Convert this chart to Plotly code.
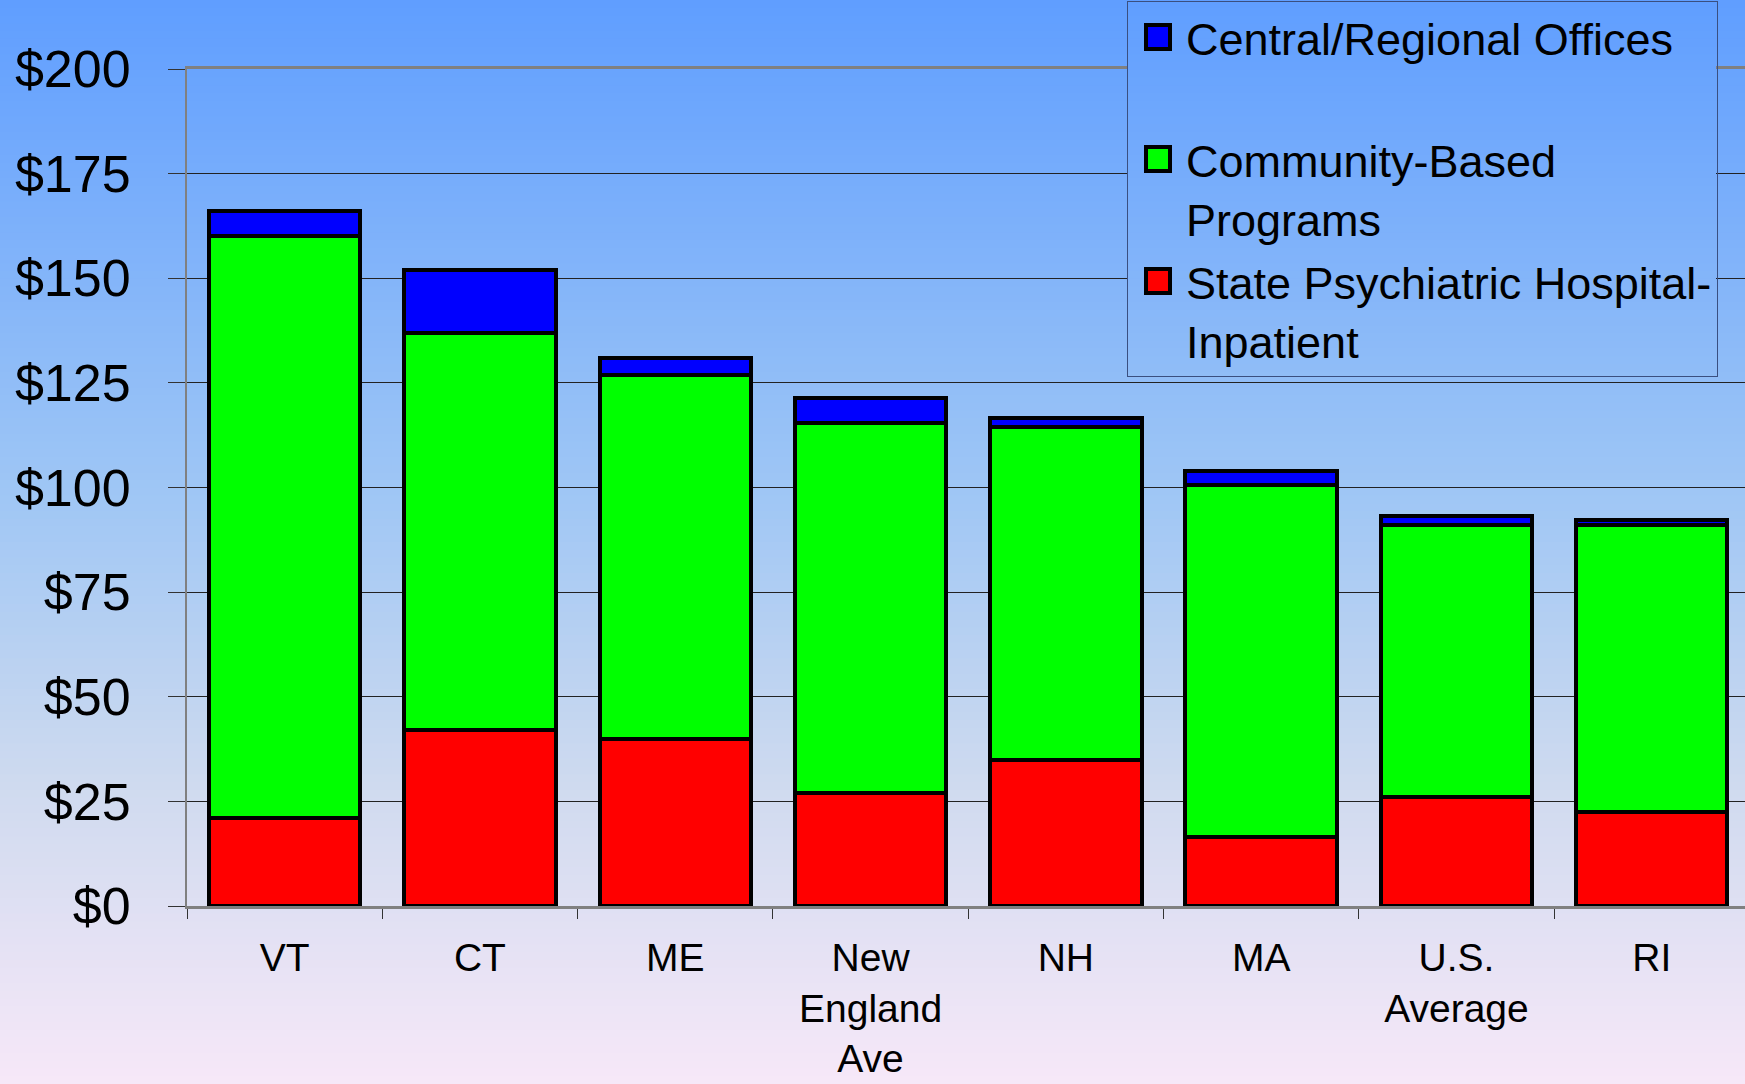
import plotly.graph_objects as go

categories = ["VT", "CT", "ME", "New<br>England<br>Ave", "NH", "MA", "U.S.<br>Average", "RI"]
hospital = [21.0, 42.0, 40.0, 27.0, 35.0, 16.5, 26.0, 22.5]
community = [139.0, 95.0, 87.0, 88.5, 79.5, 84.0, 65.0, 68.5]
central = [6.0, 15.0, 4.0, 6.0, 2.2, 3.5, 2.2, 1.3]
y_ticks = [0, 25, 50, 75, 100, 125, 150, 175, 200]
y_tick_labels = ["$0", "$25", "$50", "$75", "$100", "$125", "$150", "$175", "$200"]

W, H = 1745, 1084
ML, MR, MT, MB = 187, 0, 69, 178
FONT = "Liberation Sans, Arial, sans-serif"

fig = go.Figure()
series = [
    ("State Psychiatric Hospital-<br>Inpatient", hospital, "#ff0000", "g3"),
    ("Community-Based<br>Programs", community, "#00ff00", "g2"),
    ("Central/Regional Offices<br> ", central, "#0000ff", "g1"),
]
for name, vals, col, grp in series:
    fig.add_trace(go.Bar(
        x=categories, y=vals, name=name, showlegend=False, legendgroup=grp,
        marker=dict(color=col, line=dict(color="#000000", width=4)),
    ))
# legend entries (symbols drawn as larger squares below)
for name, vals, col, grp in reversed(series):
    fig.add_trace(go.Scatter(
        x=[None], y=[None], mode="markers", name=name, legendgroup=grp,
        marker=dict(symbol="square", size=16, color="rgba(0,0,0,0)", line=dict(width=0)),
    ))

# background gradient (top blue -> bottom lavender)
stops = [(0.0, (96, 158, 255)), (0.45, (158, 198, 245)), (0.72, (206, 218, 239)), (1.0, (247, 232, 248))]
def col_at(t):
    for i in range(len(stops) - 1):
        t0, c0 = stops[i]
        t1, c1 = stops[i + 1]
        if t <= t1:
            f = (t - t0) / (t1 - t0)
            return "rgb(%d,%d,%d)" % tuple(round(c0[k] + (c1[k] - c0[k]) * f) for k in range(3))
    return "rgb(%d,%d,%d)" % stops[-1][1]

ph = H - MT - MB
pw = W - ML - MR
def px_x(x):
    return (x - ML) / pw
def px_y(y):
    return 1 + (MT - y) / ph

N = 140
LEG_L, LEG_R, LEG_B = 1128, 1716, 375  # legend box area (px) covered by opaque background
shapes = []
for i in range(N):
    top_px = H * i / N
    bot_px = H * (i + 1) / N + 1
    c = col_at((i + 0.5) / N)
    shapes.append(dict(type="rect", xref="paper", yref="paper",
                       x0=-ML / pw - 0.01, x1=1.01, y0=px_y(bot_px), y1=px_y(top_px),
                       fillcolor=c, line=dict(width=0), layer="below"))
    if top_px < LEG_B:
        shapes.append(dict(type="rect", xref="paper", yref="paper",
                           x0=px_x(LEG_L), x1=px_x(LEG_R), y0=px_y(min(bot_px, LEG_B)), y1=px_y(top_px),
                           fillcolor=c, line=dict(width=0), layer="above"))

# legend key squares
SYM_X = 1158
SYM_Y = [37, 159, 281]
SYM_HALF = 12
for (name, vals, col, grp), sy in zip(reversed(series), SYM_Y):
    shapes.append(dict(type="rect", xref="paper", yref="paper",
                       x0=px_x(SYM_X - SYM_HALF), x1=px_x(SYM_X + SYM_HALF),
                       y0=px_y(sy + SYM_HALF), y1=px_y(sy - SYM_HALF),
                       fillcolor=col, line=dict(color="#000000", width=4), layer="above"))

fig.update_layout(
    width=W, height=H,
    margin=dict(l=ML, r=MR, t=MT, b=MB),
    barmode="stack", bargap=0.225,
    paper_bgcolor="rgba(0,0,0,0)", plot_bgcolor="rgba(0,0,0,0)",
    shapes=shapes,
    font=dict(family=FONT, color="#000000"),
    showlegend=True,
    legend=dict(
        x=(1127 - ML) / pw, xanchor="left", y=1 + (MT - 1) / ph, yanchor="top",
        traceorder="grouped", tracegroupgap=2, valign="top",
        bgcolor="rgba(0,0,0,0)", bordercolor="#3a4f80", borderwidth=1,
        font=dict(family=FONT, size=45, color="#000000"),
        itemwidth=48,
    ),
    xaxis=dict(
        range=[-0.5, -0.5 + pw / 195.3],
        showline=True, linecolor="#808080", linewidth=3, mirror=True,
        ticks="outside", tickson="boundaries", ticklen=10, tickcolor="#333333",
        tickfont=dict(family=FONT, size=39),
        ticklabelstandoff=15,
        showgrid=False,
    ),
    yaxis=dict(
        range=[0, 200], tickvals=y_ticks, ticktext=y_tick_labels,
        showline=True, linecolor="#808080", linewidth=2,
        ticks="outside", ticklen=17, tickcolor="#333333",
        tickfont=dict(family=FONT, size=52),
        showgrid=True, gridcolor="#222222", gridwidth=1,
        zeroline=False,
        ticklabelstandoff=27,
    ),
)

fig.write_html("out.html", config={"displayModeBar": False},
               post_script="document.body.style.margin='0';document.body.style.overflow='hidden';")
